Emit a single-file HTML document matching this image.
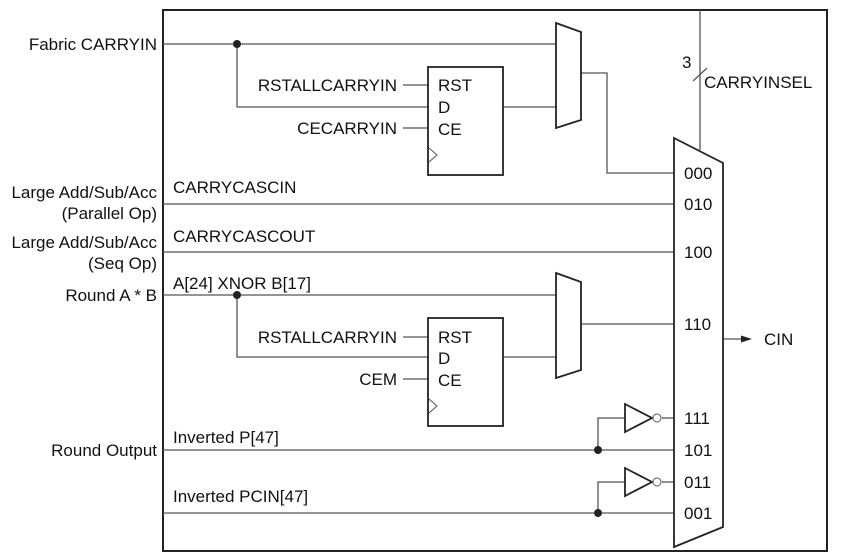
<!DOCTYPE html>
<html><head><style>
body{margin:0;background:#fff}
svg text{font-family:"Liberation Sans",Arial,sans-serif;font-size:17px;fill:#111}
</style></head><body>
<svg width="862" height="553" viewBox="0 0 862 553" xmlns="http://www.w3.org/2000/svg">
<rect x="163" y="10" width="664" height="541" fill="none" stroke="#222" stroke-width="2"/>
<g stroke="#555" stroke-width="1.3" fill="none">
<line x1="163" y1="44" x2="556" y2="44"/>
<polyline points="237,44 237,107 428,107"/>
<line x1="403" y1="85" x2="428" y2="85"/>
<line x1="403" y1="128" x2="428" y2="128"/>
<line x1="503" y1="107" x2="556" y2="107"/>
<polyline points="581,73 607,73 607,173 674,173"/>
<line x1="163" y1="204" x2="674" y2="204"/>
<line x1="163" y1="252" x2="674" y2="252"/>
<line x1="163" y1="295" x2="556" y2="295"/>
<polyline points="237,295 237,357 428,357"/>
<line x1="403" y1="337" x2="428" y2="337"/>
<line x1="403" y1="379" x2="428" y2="379"/>
<line x1="503" y1="357" x2="556" y2="357"/>
<line x1="581" y1="324" x2="674" y2="324"/>
<line x1="700" y1="10" x2="700" y2="150"/>
<line x1="693" y1="81" x2="707" y2="68"/>
<line x1="163" y1="450" x2="674" y2="450"/>
<polyline points="598,450 598,418 625,418"/>
<line x1="662" y1="418" x2="674" y2="418"/>
<line x1="163" y1="513" x2="674" y2="513"/>
<polyline points="598,513 598,482 625,482"/>
<line x1="662" y1="482" x2="674" y2="482"/>
<line x1="723" y1="339" x2="742" y2="339"/>
</g>
<polygon points="752,339 741,335.5 741,342.5" fill="#222"/>
<g fill="#222">
<circle cx="237" cy="44" r="4"/><circle cx="237" cy="295" r="4"/>
<circle cx="598" cy="450" r="4"/><circle cx="598" cy="513" r="4"/>
</g>
<g stroke="#222" stroke-width="1.8" fill="#fff">
<rect x="428" y="67" width="75" height="108"/>
<rect x="428" y="318" width="75" height="108"/>
<polygon points="556,23 581,32 581,120 556,128"/>
<polygon points="556,273 581,282 581,370 556,378"/>
<polygon points="674,138 723,163 723,527 674,547"/>
<polygon points="625,404 652,418 625,432"/>
<polygon points="625,468 652,482 625,496"/>
</g>
<g stroke="#555" stroke-width="1" fill="#fff">
<circle cx="657" cy="418" r="4"/><circle cx="657" cy="482" r="4"/>
<polyline points="429,148 437,155 429,162" fill="none"/>
<polyline points="429,399 437,406 429,413" fill="none"/>
</g>
<g text-anchor="end">
<text x="157" y="50">Fabric CARRYIN</text>
<text x="157" y="198">Large Add/Sub/Acc</text>
<text x="157" y="219">(Parallel Op)</text>
<text x="157" y="248">Large Add/Sub/Acc</text>
<text x="157" y="269">(Seq Op)</text>
<text x="157" y="301">Round A * B</text>
<text x="157" y="456">Round Output</text>
<text x="397" y="91">RSTALLCARRYIN</text>
<text x="397" y="134">CECARRYIN</text>
<text x="397" y="343">RSTALLCARRYIN</text>
<text x="397" y="385">CEM</text>
</g>
<text x="173" y="193">CARRYCASCIN</text>
<text x="173" y="242">CARRYCASCOUT</text>
<text x="173" y="289">A[24] XNOR B[17]</text>
<text x="173" y="443">Inverted P[47]</text>
<text x="173" y="502">Inverted PCIN[47]</text>
<text x="438" y="91">RST</text><text x="438" y="113">D</text><text x="438" y="135">CE</text>
<text x="438" y="343">RST</text><text x="438" y="364">D</text><text x="438" y="386">CE</text>
<text x="682" y="68" font-size="14">3</text>
<text x="704" y="88">CARRYINSEL</text>
<text x="764" y="345">CIN</text>
<g>
<text x="684" y="179">000</text><text x="684" y="210">010</text>
<text x="684" y="258">100</text><text x="684" y="330">110</text>
<text x="684" y="424">111</text><text x="684" y="456">101</text>
<text x="684" y="488">011</text><text x="684" y="519">001</text>
</g>
</svg>
</body></html>
